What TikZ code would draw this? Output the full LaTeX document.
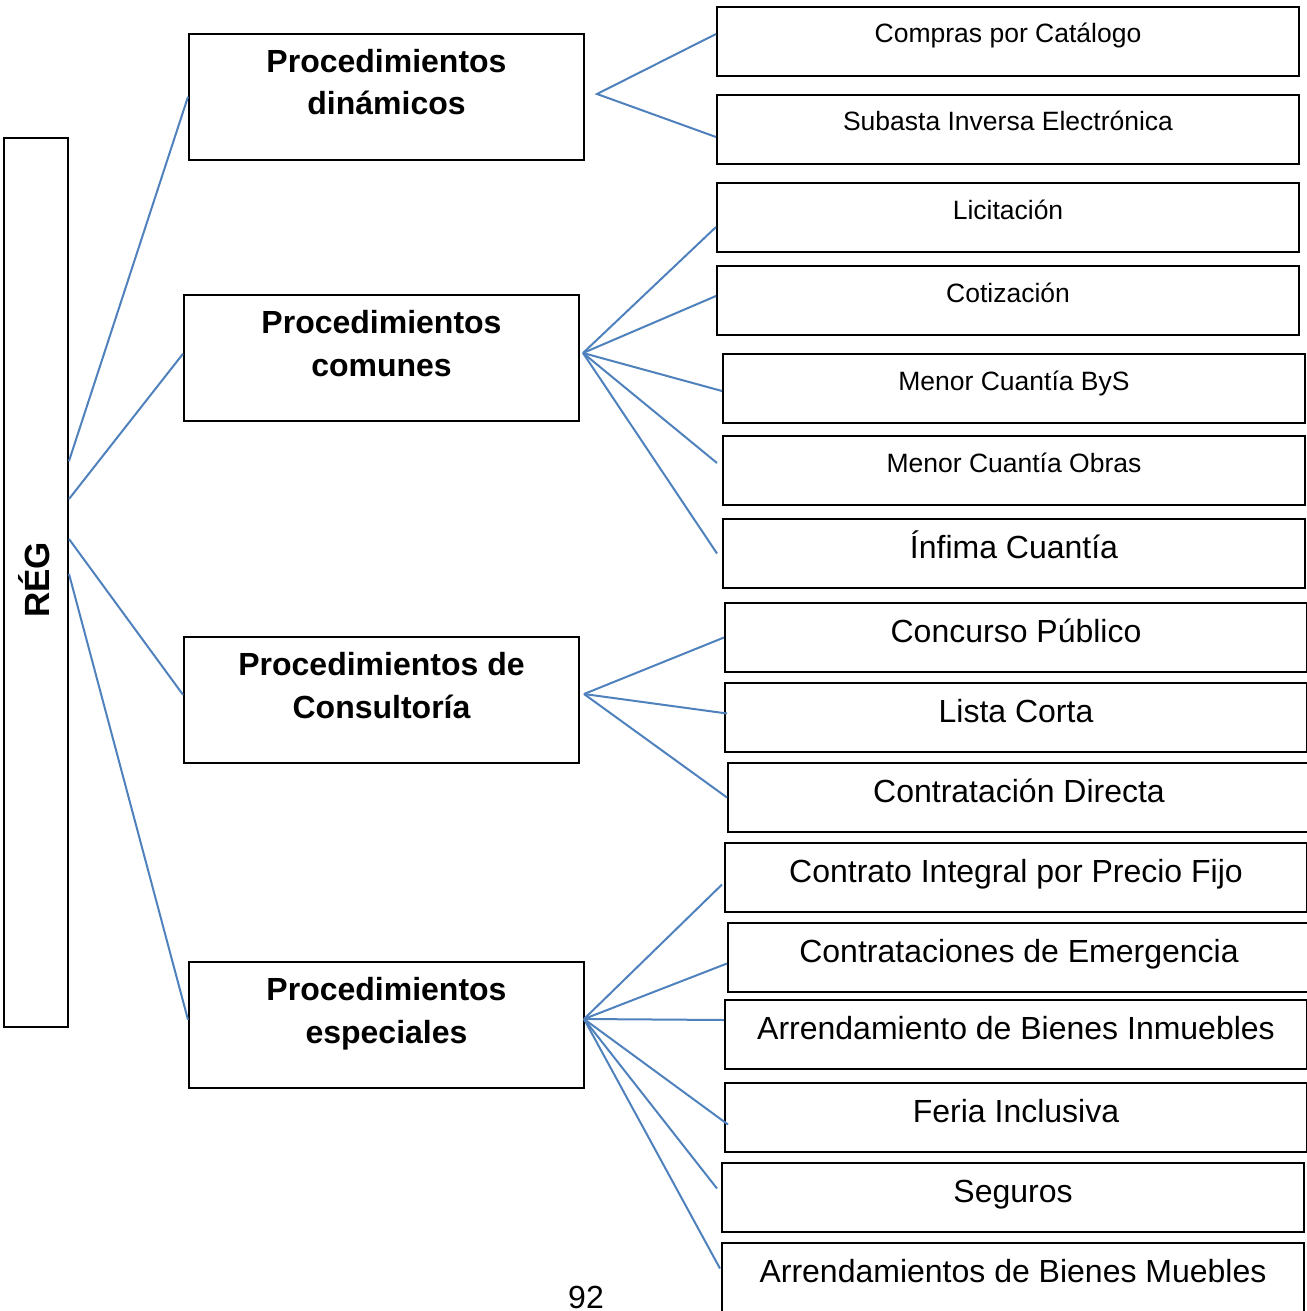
\documentclass[tikz,border=0pt]{standalone}
\usepackage{fontspec}
\setmainfont{Liberation Sans}
\definecolor{linkblue}{RGB}{79,129,189}
\begin{document}
\begin{tikzpicture}[x=1pt,y=-1pt,
  box/.style={draw=black, line width=2pt, inner sep=0pt, anchor=north west},
  leaf/.style={box, minimum width=582pt, minimum height=69pt},
  head/.style={box, minimum width=395pt, minimum height=125.5pt},
  small/.style={anchor=base, inner sep=0pt, font=\fontsize{26.5}{32}\selectfont},
  large/.style={anchor=base, inner sep=0pt, font=\fontsize{32}{38}\selectfont},
  headtxt/.style={anchor=base, inner sep=0pt, align=center, font=\fontsize{32}{43}\selectfont\bfseries},
  link/.style={draw=linkblue, line width=2pt}]
\useasboundingbox (0,0) rectangle (1306,1311);

% root
\node[box, minimum width=64pt, minimum height=889pt] (reg) at (3,137) {};
\node[anchor=base, inner sep=0pt, rotate=90, font=\fontsize{35}{40}\selectfont\bfseries] (regtxt) at (49,580) {RÉG};

% procedure groups
\node[head] (d1) at (188,33) {};
\node[head] (d2) at (183,294) {};
\node[head] (d3) at (183,636) {};
\node[head] (d4) at (188,961) {};
\node[headtxt] (t1) at ([yshift=-82pt]d1.north) {Procedimientos\\dinámicos};
\node[headtxt] (t2) at ([yshift=-82pt]d2.north) {Procedimientos\\comunes};
\node[headtxt] (t3) at ([yshift=-82pt]d3.north) {Procedimientos de\\Consultoría};
\node[headtxt] (t4) at ([yshift=-82pt]d4.north) {Procedimientos\\especiales};

% individual procedures
\node[leaf] (s1) at (716,6) {};
\node[leaf] (s2) at (716,94) {};
\node[leaf] (s3) at (716,182) {};
\node[leaf] (s4) at (716,265) {};
\node[leaf] (s5) at (722,353) {};
\node[leaf] (s6) at (722,435) {};
\node[leaf] (s7) at (722,518) {};
\node[leaf] (s8) at (724,602) {};
\node[leaf] (s9) at (724,682) {};
\node[leaf] (s10) at (727,762) {};
\node[leaf] (s11) at (724,842) {};
\node[leaf] (s12) at (727,922) {};
\node[leaf] (s13) at (724,999) {};
\node[leaf] (s14) at (724,1082) {};
\node[leaf] (s15) at (721,1162) {};
\node[leaf] (s16) at (721,1242) {};

\node[small] at ([yshift=-37pt]s1.north) {Compras por Catálogo};
\node[small] at ([yshift=-37pt]s2.north) {Subasta Inversa Electrónica};
\node[small] at ([yshift=-37pt]s3.north) {Licitación};
\node[small] at ([yshift=-37pt]s4.north) {Cotización};
\node[small] at ([yshift=-37pt]s5.north) {Menor Cuantía ByS};
\node[small] at ([yshift=-37pt]s6.north) {Menor Cuantía Obras};
\node[large] at ([yshift=-40pt]s7.north) {Ínfima Cuantía};
\node[large] at ([yshift=-40pt]s8.north) {Concurso Público};
\node[large] at ([yshift=-40pt]s9.north) {Lista Corta};
\node[large] at ([yshift=-40pt]s10.north) {Contratación Directa};
\node[large] at ([yshift=-40pt]s11.north) {Contrato Integral por Precio Fijo};
\node[large] at ([yshift=-40pt]s12.north) {Contrataciones de Emergencia};
\node[large] at ([yshift=-40pt]s13.north) {Arrendamiento de Bienes Inmuebles};
\node[large] at ([yshift=-40pt]s14.north) {Feria Inclusiva};
\node[large] at ([yshift=-40pt]s15.north) {Seguros};
\node[large] at ([yshift=-40pt]s16.north) {Arrendamientos de Bienes Muebles};

% page number
\node[large] (pg) at (586,1308) {92};

% branching points
\coordinate (h1) at (597,94);
\coordinate (h2) at (583,353);
\coordinate (h3) at (584,694);
\coordinate (h4) at (584,1019);

% root to groups
\path[link] ([yshift=121.5pt]reg.east) -- (d1.west);
\path[link] ([yshift=83.5pt]reg.east) -- ([yshift=4pt]d2.west);
\path[link] ([yshift=43.5pt]reg.east) -- ([yshift=5pt]d3.west);
\path[link] ([yshift=8.5pt]reg.east) -- ([yshift=5pt]d4.west);

% groups to procedures
\path[link] ([yshift=7.5pt]s1.west) -- (h1) -- ([yshift=-7.5pt]s2.west);

\path[link] (h2) -- ([yshift=-9.5pt]s3.west);
\path[link] (h2) -- ([yshift=4.5pt]s4.west);
\path[link] (h2) -- ([yshift=-2.5pt]s5.west);
\path[link] (h2) -- ([xshift=-5pt,yshift=7.5pt]s6.west);
\path[link] (h2) -- ([xshift=-5pt]s7.west);

\path[link] (h3) -- (s8.west);
\path[link] (h3) -- ([xshift=3pt,yshift=4pt]s9.west);
\path[link] (h3) -- (s10.west);

\path[link] (h4) -- ([xshift=-2pt,yshift=-7pt]s11.west);
\path[link] (h4) -- ([yshift=-6pt]s12.west);
\path[link] (h4) -- ([yshift=14.5pt]s13.west);
\path[link] (h4) -- ([xshift=4pt,yshift=-7pt]s14.west);
\path[link] (h4) -- ([xshift=-4pt,yshift=9pt]s15.west);
\path[link] (h4) -- ([xshift=-1pt,yshift=9pt]s16.west);
\end{tikzpicture}
\end{document}
